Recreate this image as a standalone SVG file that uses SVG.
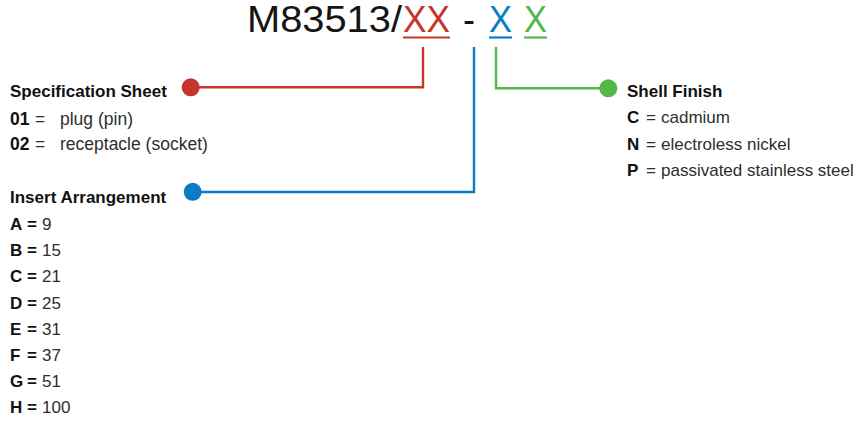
<svg xmlns="http://www.w3.org/2000/svg" width="857" height="423" viewBox="0 0 857 423">
<style>
text{font-family:"Liberation Sans",Arial,sans-serif;}
.title{font-size:36px;fill:#151515;}
.h{font-size:17px;font-weight:bold;fill:#111;}
.t{font-size:17px;fill:#2e2e2e;}
.b{font-weight:bold;fill:#111;}
.red{stroke:#c4352b;}
.blue{stroke:#0a7cc6;}
.green{stroke:#52b84a;}
.conn{fill:none;stroke-width:2.4;}
.ul{stroke-width:2.2;}
</style>
<rect width="857" height="423" fill="#fff"/>
<g id="code">
<text class="title" x="247" y="32" textLength="155" lengthAdjust="spacingAndGlyphs">M83513/</text>
<text class="title" x="403" y="32" style="fill:#c4352b" textLength="47" lengthAdjust="spacingAndGlyphs">XX</text>
<text class="title" x="463" y="32">-</text>
<text class="title" x="489" y="32" style="fill:#0a7cc6" textLength="23" lengthAdjust="spacingAndGlyphs">X</text>
<text class="title" x="524" y="32" style="fill:#52b84a" textLength="23" lengthAdjust="spacingAndGlyphs">X</text>
<line class="red ul" x1="403" y1="37.5" x2="450" y2="37.5"/>
<line class="blue ul" x1="489" y1="37.5" x2="512" y2="37.5"/>
<line class="green ul" x1="524" y1="37.5" x2="547" y2="37.5"/>
</g>
<g id="connectors">
<path class="conn red" d="M423,47 V87.3 H191"/>
<path class="conn blue" d="M474,47 V192 H193"/>
<path class="conn green" d="M496,47 V88.3 H608"/>
<circle cx="190.7" cy="87.3" r="9" fill="#c4352b"/>
<circle cx="192.7" cy="191.8" r="9" fill="#0a7cc6"/>
<circle cx="608.3" cy="88.3" r="9" fill="#52b84a"/>
</g>
<g id="spec">
<text class="h" x="10" y="97">Specification Sheet</text>
<text class="t" y="125" style="font-size:17.5px"><tspan class="b" x="10">01</tspan><tspan x="35">=</tspan><tspan x="60">plug (pin)</tspan></text>
<text class="t" y="150" style="font-size:17.5px"><tspan class="b" x="10">02</tspan><tspan x="35">=</tspan><tspan x="60">receptacle (socket)</tspan></text>
</g>
<g id="insert">
<text class="h" x="10" y="203">Insert Arrangement</text>
<text class="t" y="230"><tspan class="b" x="10">A</tspan><tspan class="b" x="27">=</tspan><tspan x="42">9</tspan></text>
<text class="t" y="256.2"><tspan class="b" x="10">B</tspan><tspan class="b" x="27">=</tspan><tspan x="42">15</tspan></text>
<text class="t" y="282.4"><tspan class="b" x="10">C</tspan><tspan class="b" x="27">=</tspan><tspan x="42">21</tspan></text>
<text class="t" y="308.6"><tspan class="b" x="10">D</tspan><tspan class="b" x="27">=</tspan><tspan x="42">25</tspan></text>
<text class="t" y="334.8"><tspan class="b" x="10">E</tspan><tspan class="b" x="27">=</tspan><tspan x="42">31</tspan></text>
<text class="t" y="361"><tspan class="b" x="10">F</tspan><tspan class="b" x="27">=</tspan><tspan x="42">37</tspan></text>
<text class="t" y="387.2"><tspan class="b" x="10">G</tspan><tspan class="b" x="27">=</tspan><tspan x="42">51</tspan></text>
<text class="t" y="413.4"><tspan class="b" x="10">H</tspan><tspan class="b" x="27">=</tspan><tspan x="42">100</tspan></text>
</g>
<g id="shell">
<text class="h" x="627" y="97">Shell Finish</text>
<text class="t" y="123"><tspan class="b" x="627">C</tspan><tspan x="646">=</tspan><tspan x="661">cadmium</tspan></text>
<text class="t" y="150"><tspan class="b" x="627">N</tspan><tspan x="646">=</tspan><tspan x="661">electroless nickel</tspan></text>
<text class="t" y="176"><tspan class="b" x="627">P</tspan><tspan x="646">=</tspan><tspan x="661">passivated stainless steel</tspan></text>
</g>
</svg>
